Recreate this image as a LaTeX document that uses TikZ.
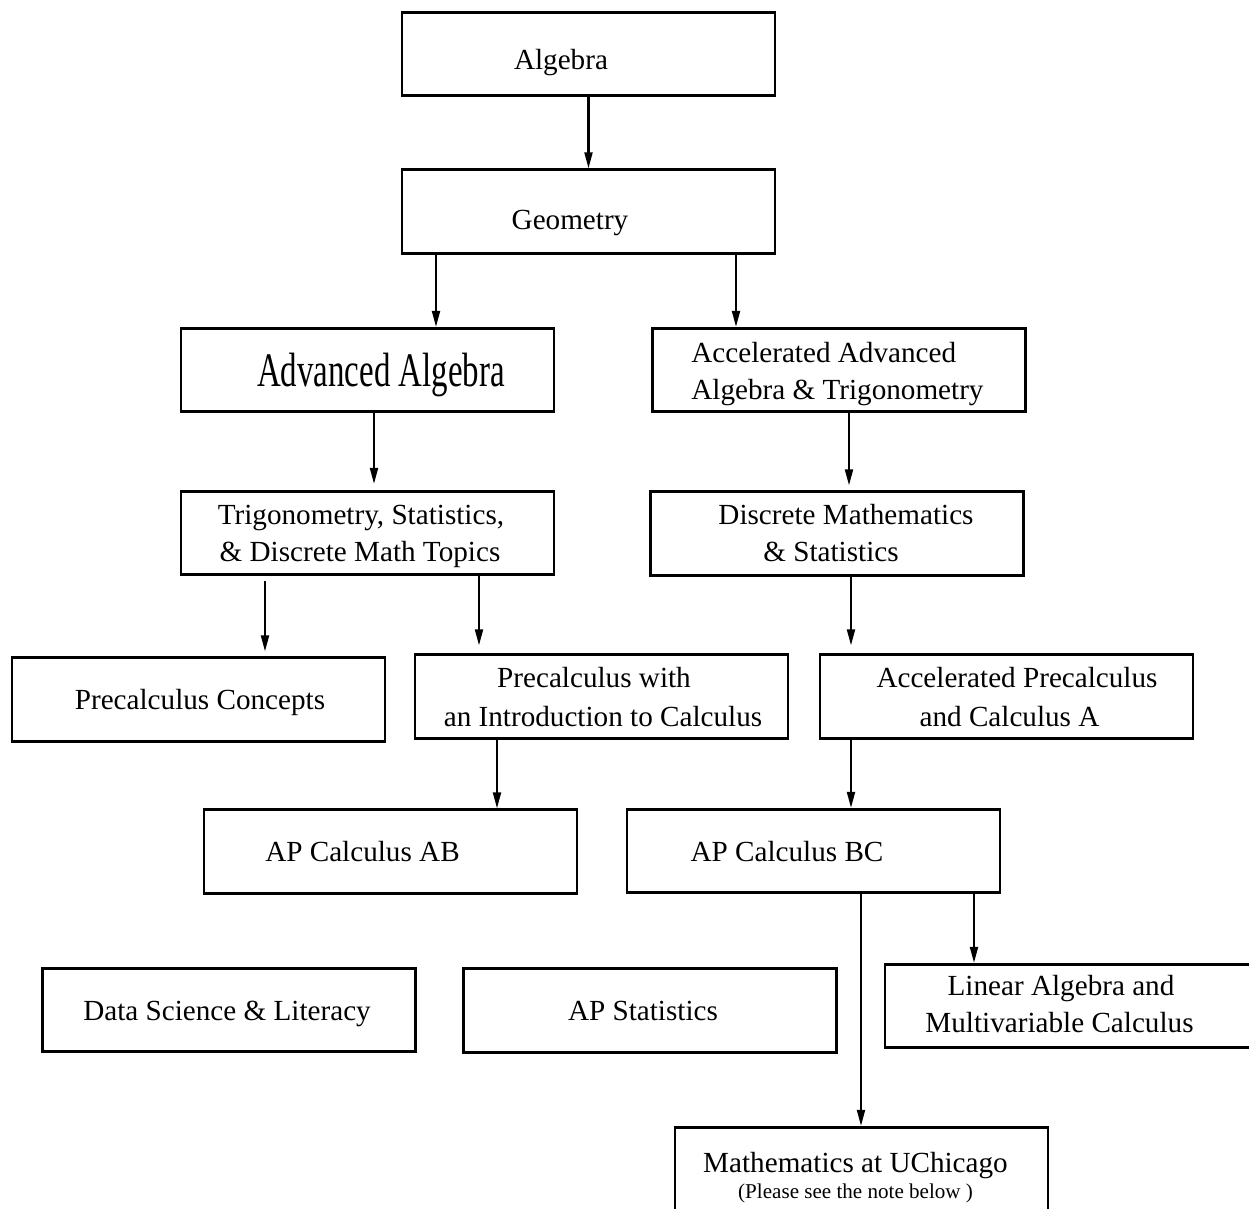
\documentclass[tikz,border=0pt]{standalone}
\usepackage{fontspec}
\setmainfont{Liberation Serif}
\usetikzlibrary{arrows.meta}
\begin{document}
\begin{tikzpicture}[x=0.02cm,y=-0.02cm,
  box/.style={draw, line width=1.6pt, minimum width=7.46cm, minimum height=1.67cm, inner sep=0pt},
  lbl/.style={font=\fontsize{16.6}{20}\selectfont, inner sep=0pt, anchor=base},
  lbll/.style={lbl, anchor=base west},
  note/.style={font=\fontsize{12}{14}\selectfont, inner sep=0pt, anchor=base},
  arr/.style={line width=1.15pt, -{Triangle[length=0.32cm,width=0.16cm]}}]
\useasboundingbox (0,0) rectangle (1249,1209);
\fill[white] (0,0) rectangle (1249,1209);
% boxes
\node[box] (alg)  at (588.5,54)    {};
\node[box] (geo)  at (588.5,211.5) {};
\node[box] (adv)  at (367.5,370)   {};
\node[box] (acc)  at (839,370)     {};
\node[box] (trig) at (367.5,533)   {};
\node[box] (disc) at (837,533.5)   {};
\node[box] (pcc)  at (198.5,699.5) {};
\node[box] (pcw)  at (601.5,696.5) {};
\node[box] (apc)  at (1006.5,696.5){};
\node[box] (ab)   at (390.5,851.5) {};
\node[box] (bc)   at (813.5,851)   {};
\node[box] (ds)   at (229,1010)    {};
\node[box] (aps)  at (650,1010.5)  {};
\node[box] (lin)  at (1071.5,1006) {};
\node[box] (uc)   at (861.5,1169)  {};
% texts
\node[lbl] (algT) at (561,70) {Algebra};
\node[lbl] (geoT) at (570,230) {Geometry};
\node[inner sep=0pt, anchor=base] (advT) at (381,387) {\scalebox{0.684}[1]{\fontsize{27.4}{30}\selectfont Advanced Algebra}};
\node[lbll] (accT1) at (691,363) {Accelerated Advanced};
\node[lbll] (accT2) at (691,400) {Algebra \& Trigonometry};
\node[lbl] (trigT1) at (361,525) {Trigonometry, Statistics,};
\node[lbl] (trigT2) at (360,562) {\& Discrete Math Topics};
\node[lbl] (discT1) at (846,525) {Discrete Mathematics};
\node[lbl] (discT2) at (831,562) {\& Statistics};
\node[lbl] (pccT) at (200,710) {Precalculus Concepts};
\node[lbl] (pcwT1) at (594,688) {Precalculus with};
\node[lbl] (pcwT2) at (603,727) {an Introduction to Calculus};
\node[lbl] (apcT1) at (1017,688) {Accelerated Precalculus};
\node[lbl] (apcT2) at (1009.5,727) {and Calculus A};
\node[lbl] (abT) at (362.5,862) {AP Calculus AB};
\node[lbl] (bcT) at (787,862) {AP Calculus BC};
\node[lbl] (dsT) at (227,1020) {Data Science \& Literacy};
\node[lbl] (apsT) at (643,1020) {AP Statistics};
\node[lbl] (linT1) at (1061,995) {Linear Algebra and};
\node[lbl] (linT2) at (1059.5,1032) {Multivariable Calculus};
\node[lbl] (ucT) at (855.5,1172) {Mathematics at UChicago};
\node[note] (ucN) at (855.6,1198) {(Please see the note below )};
% arrow x positions
\coordinate (x436) at (436,0);
\coordinate (x736) at (736,0);
\coordinate (x374) at (374,0);
\coordinate (x849) at (849,0);
\coordinate (x265) at (265,0);
\coordinate (x479) at (479,0);
\coordinate (x851) at (851,0);
\coordinate (x497) at (497,0);
\coordinate (x861) at (861,0);
\coordinate (x974) at (974,0);
% connectors
\draw[arr] (alg.south) -- (geo.north);
\draw[arr] (geo.south -| x436) -- (adv.north -| x436);
\draw[arr] (geo.south -| x736) -- (acc.north -| x736);
\draw[arr, shorten >=0.12cm] (adv.south -| x374) -- (trig.north -| x374);
\draw[arr, shorten >=0.1cm] (acc.south -| x849) -- (disc.north -| x849);
\draw[arr, shorten <=0.1cm, shorten >=0.1cm] (trig.south -| x265) -- (pcc.north -| x265);
\draw[arr, shorten >=0.16cm] (trig.south -| x479) -- (pcw.north -| x479);
\draw[arr, shorten >=0.16cm] (disc.south -| x851) -- (apc.north -| x851);
\draw[arr] (pcw.south -| x497) -- (ab.north -| x497);
\draw[arr] (apc.south -| x851) -- (bc.north -| x851);
\draw[arr] (bc.south -| x861) -- (uc.north -| x861);
\draw[arr] (bc.south -| x974) -- (lin.north -| x974);
\end{tikzpicture}
\end{document}
